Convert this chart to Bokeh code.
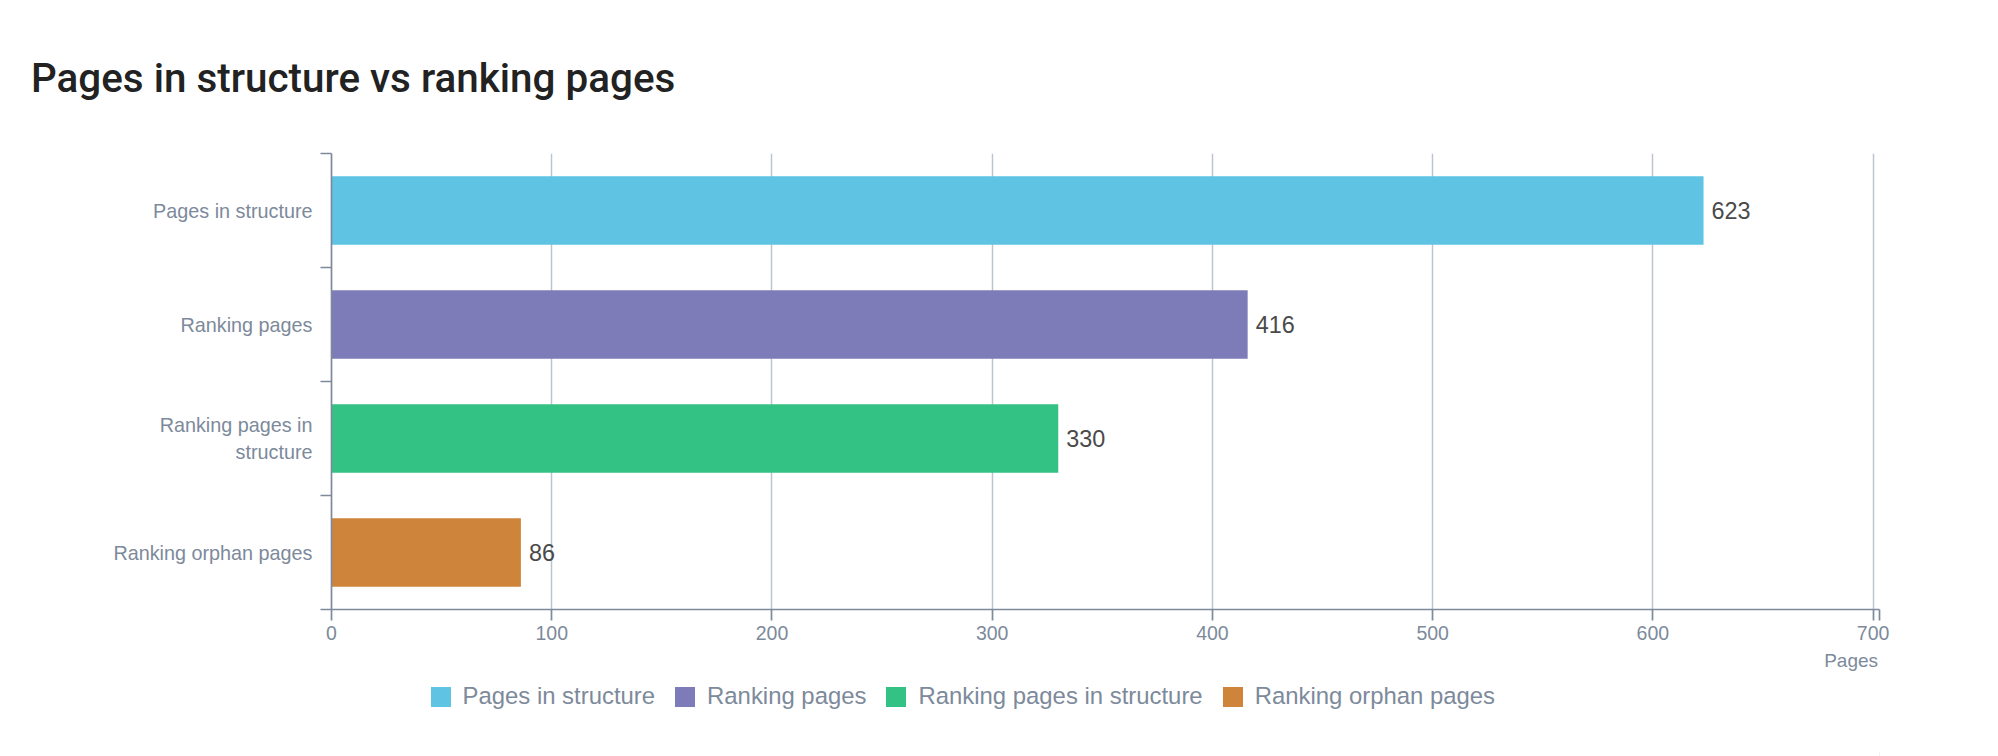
from bokeh.plotting import figure
from bokeh.models import (Range1d, FixedTicker, Legend, LegendItem, LinearAxis,
                          ColumnDataSource, Div)
from bokeh.layouts import column
from bokeh.core.properties import value
from bokeh.embed import file_html
from bokeh.resources import INLINE

# ---- data ----
categories = ["Pages in structure", "Ranking pages",
              "Ranking pages in structure", "Ranking orphan pages"]
values = [623, 416, 330, 86]
colors = ["#5fc3e4", "#7e7cb8", "#33c283", "#ce843a"]
x_ticks = [0, 100, 200, 300, 400, 500, 600, 700]
wrapped_labels = {"Ranking pages in structure": "Ranking pages in\nstructure"}
title_text = "Pages in structure vs ranking pages"
x_title = "Pages"

AXIS = "#7d8a9b"
GRID = "#bcc4cf"
LABEL = "#7d8a9b"
FONT = "Liberation Sans"
X_END = 702.9

W = 1998
FRAME_LEFT = 331
TITLE_H = 110
MAIN_H = 565
LEG_H = 756 - TITLE_H - MAIN_H

title = Div(text=title_text, width=W, height=TITLE_H, margin=(0, 0, 0, 0),
            styles={"font-family": "Roboto", "font-weight": "500",
                    "font-size": "40.4px", "line-height": "40px",
                    "color": "#222222", "padding-left": "31px",
                    "padding-top": "59px", "white-space": "nowrap",
                    "box-sizing": "border-box"})

p = figure(width=W, height=MAIN_H, output_backend="svg", toolbar_location=None,
           x_range=Range1d(0, X_END), y_range=Range1d(len(categories), 0),
           margin=(0, 0, 0, 0))
p.min_border_left = FRAME_LEFT
p.min_border_right = W - 1879
p.min_border_top = 153 - TITLE_H
p.min_border_bottom = MAIN_H - (153 - TITLE_H) - 456
p.outline_line_color = None
p.background_fill_color = "white"
p.border_fill_color = "white"

ys = [i + 0.5 for i in range(len(categories))]
src = ColumnDataSource(dict(y=ys, v=values, c=colors, cat=categories,
                            t=[str(v) for v in values]))
r = p.hbar(y="y", right="v", left=0, height=0.6, fill_color="c",
           line_color=None, source=src)

p.text(x="v", y="y", text="t", source=src, x_offset=8,
       text_baseline="middle", text_align="left",
       text_font=value(FONT), text_font_size="23.4px", text_color="#4a4a4a")

# x axis
xa = p.xaxis[0]
xa.ticker = FixedTicker(ticks=x_ticks, minor_ticks=[X_END])
xa.axis_line_color = AXIS
xa.axis_line_width = 1.7
xa.major_tick_line_color = AXIS
xa.major_tick_line_width = 1.7
xa.major_tick_out = 11
xa.major_tick_in = 0
xa.minor_tick_line_color = AXIS
xa.minor_tick_line_width = 1.7
xa.minor_tick_out = 11
xa.minor_tick_in = 0
xa.major_label_text_font = FONT
xa.major_label_text_font_size = "19.5px"
xa.major_label_text_color = LABEL
xa.major_label_standoff = 5

# axis title placed at the high end of the x axis
xt = LinearAxis(ticker=FixedTicker(ticks=[690]),
                major_label_overrides={690: x_title},
                axis_line_color=None, major_tick_line_color=None,
                minor_tick_line_color=None, major_tick_out=0, major_tick_in=0,
                major_label_standoff=7, major_label_text_font=FONT,
                major_label_text_font_size="19px",
                major_label_text_color=LABEL)
p.add_layout(xt, "below")

# y axis
ya = p.yaxis[0]
ya.ticker = FixedTicker(ticks=ys, minor_ticks=list(range(len(categories) + 1)))
ya.major_label_overrides = {y: wrapped_labels.get(c, c) for y, c in zip(ys, categories)}
ya.axis_line_color = AXIS
ya.axis_line_width = 1.7
ya.major_tick_line_color = None
ya.major_tick_out = 0
ya.major_tick_in = 0
ya.minor_tick_line_color = AXIS
ya.minor_tick_line_width = 1.7
ya.minor_tick_out = 11
ya.minor_tick_in = 0
ya.major_label_text_font = FONT
ya.major_label_text_font_size = "19.8px"
ya.major_label_text_color = LABEL
ya.major_label_standoff = 8

p.xgrid.ticker = FixedTicker(ticks=x_ticks[1:])
p.xgrid.grid_line_color = GRID
p.xgrid.grid_line_width = 1.5
p.ygrid.grid_line_color = None

# ---- legend strip (own figure; its swatch renderer lies outside its view) ----
lf = figure(width=W, height=LEG_H, output_backend="svg", toolbar_location=None,
            x_range=Range1d(-5000, -5000 + W), y_range=Range1d(0, LEG_H),
            x_axis_location=None, y_axis_location=None, min_border=0,
            margin=(0, 0, 0, 0))
lf.outline_line_color = None
lf.xgrid.visible = False
lf.ygrid.visible = False
lr = lf.hbar(y="y", right="v", left=0, height=0.6, fill_color="c",
             line_color=None, source=src)

items = [LegendItem(label=c, renderers=[lr], index=i)
         for i, c in enumerate(categories)]
# column layouts align the frames, so x is measured from the plot frame's left edge
legend = Legend(items=items, orientation="horizontal",
                location=(430 - FRAME_LEFT - 2.5, 46),
                padding=0, margin=0, spacing=17, label_standoff=10,
                glyph_width=25, glyph_height=25, label_height=20,
                border_line_color=None, background_fill_alpha=0,
                label_text_font=FONT, label_text_font_size="23.9px",
                label_text_color=LABEL, label_text_baseline="middle")
lf.add_layout(legend, "center")

layout = column(title, p, lf, spacing=0, margin=(0, 0, 0, 0))
open("out.html", "w").write(file_html(layout, INLINE))
